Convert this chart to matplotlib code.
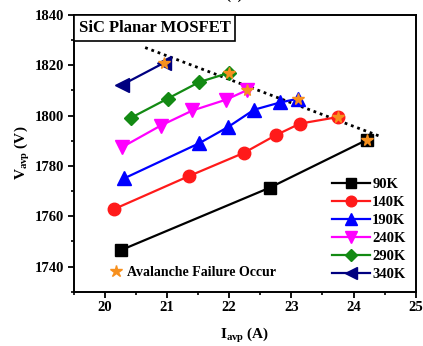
import matplotlib
matplotlib.use("Agg")
import matplotlib.pyplot as plt
from matplotlib.lines import Line2D
from matplotlib.offsetbox import AnchoredText
from matplotlib.ticker import MultipleLocator

plt.rcParams['font.family'] = ['Liberation Serif', 'DejaVu Serif']
plt.rcParams['font.weight'] = 'bold'
plt.rcParams['mathtext.fontset'] = 'custom'
plt.rcParams['mathtext.rm'] = 'Liberation Serif:bold'
plt.rcParams['mathtext.bf'] = 'Liberation Serif:bold'
plt.rcParams['mathtext.it'] = 'Liberation Serif:bold'

# Avalanche current / voltage per temperature
temps = ["90K", "140K", "190K", "240K", "290K", "340K"]
i_90 = [20.26, 22.65, 24.22]
v_90 = [1746.5, 1771.3, 1790.4]
i_140 = [20.15, 21.36, 22.24, 22.75, 23.14, 23.75]
v_140 = [1762.8, 1776.0, 1785.2, 1792.2, 1796.8, 1799.4]
i_190 = [20.31, 21.52, 21.98, 22.40, 22.82, 23.11]
v_190 = [1775.0, 1789.0, 1795.4, 1802.3, 1805.2, 1806.7]
i_240 = [20.27, 20.90, 21.41, 21.95, 22.28]
v_240 = [1787.3, 1796.0, 1802.0, 1806.3, 1810.0]
i_290 = [20.43, 21.01, 21.52, 22.00]
v_290 = [1799.2, 1806.7, 1813.3, 1817.0]
i_340 = [20.28, 20.95]
v_340 = [1812.2, 1820.9]

# Failure-boundary trend line
trend_i = [20.65, 24.45]
trend_v = [1827.0, 1791.5]

xticks = [20, 21, 22, 23, 24, 25]
yticks = [1740, 1760, 1780, 1800, 1820, 1840]

series = [
    (i_90, v_90, "black", "s"),
    (i_140, v_140, "#ff1a1a", "o"),
    (i_190, v_190, "#0000ff", "^"),
    (i_240, v_240, "#ff00ff", "v"),
    (i_290, v_290, "#138a13", "D"),
    (i_340, v_340, "#000080", "<"),
]
msizes = {"s": 8, "o": 9, "^": 9.5, "v": 9.5, "D": 7.5, "<": 9.5}
star_color = "#f7901e"

fig = plt.figure(figsize=(4.23, 3.46), dpi=100)
ax = fig.add_axes([0.174, 0.157, 0.809, 0.800])

ax.plot(trend_i, trend_v, linestyle=(0, (1, 1.4)), color="black", lw=2.0, zorder=2)

handles = []
for (xs, ys, c, m), lab in zip(series, temps):
    ax.plot(xs, ys, color=c, marker=m, ms=msizes[m], lw=1.6,
            mec=c, mfc=c, zorder=3, label=lab)
    handles.append(Line2D([], [], color=c, marker=m, ms=msizes[m] * 0.85,
                          lw=1.6, label=lab))
    ax.plot(xs[-1], ys[-1], linestyle="none", marker="*", ms=8.5,
            color=star_color, mec=star_color, zorder=4)

ax.set_xlim(19.5, 25)
ax.set_ylim(1730, 1840)
ax.set_xticks(xticks)
ax.set_yticks(yticks)
ax.xaxis.set_minor_locator(MultipleLocator(0.5))
ax.yaxis.set_minor_locator(MultipleLocator(10))
ax.tick_params(which="major", direction="out", length=4, width=1.3,
               labelsize=10.5, top=False, right=False, pad=3)
ax.tick_params(which="minor", direction="out", length=2.5, width=1.2,
               top=False, right=False)
for lab in ax.get_xticklabels() + ax.get_yticklabels():
    lab.set_fontweight("bold")
for sp in ax.spines.values():
    sp.set_linewidth(1.4)

ax.set_xlabel(r"I$_{\mathrm{avp}}$ (A)", fontsize=11, fontweight="bold", labelpad=8)
ax.set_ylabel(r"V$_{\mathrm{avp}}$ (V)", fontsize=11, fontweight="bold", labelpad=2)

leg = ax.legend(handles=handles, loc="lower right", frameon=False,
                handlelength=2.6, handletextpad=0.15,
                labelspacing=0.33, borderaxespad=0.3,
                prop={"weight": "bold", "size": 10.5})
ax.add_artist(leg)

star_handle = Line2D([], [], linestyle="none", marker="*", ms=9,
                     color=star_color, label="Avalanche Failure Occur")
ax.legend(handles=[star_handle], loc="lower left", frameon=False,
          handlelength=0.9, handletextpad=0.35, borderaxespad=0.5,
          bbox_to_anchor=(0.07, 0.0),
          prop={"weight": "bold", "size": 10})

title = AnchoredText("SiC Planar MOSFET", loc="upper left", frameon=True,
                     pad=0.3, borderpad=0.0,
                     prop={"fontsize": 12, "fontweight": "bold"})
title.patch.set_linewidth(1.2)
title.patch.set_boxstyle("square,pad=0")
ax.add_artist(title)

fig.text(0.553, 1.003, "(a)", ha="center", va="baseline", fontsize=11,
         fontweight="bold")

fig.savefig("out.png", dpi=100)
